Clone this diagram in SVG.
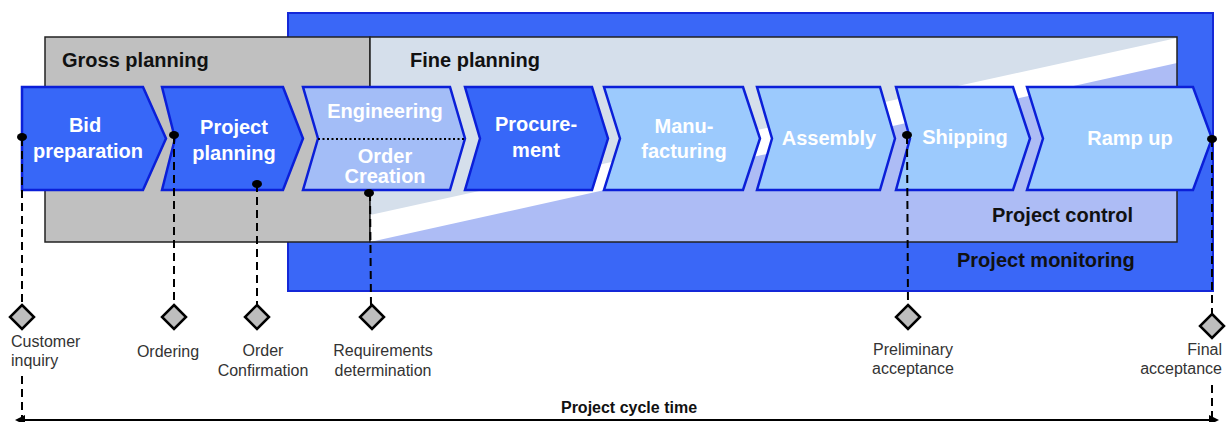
<svg xmlns="http://www.w3.org/2000/svg" width="1229" height="422" viewBox="0 0 1229 422">
<defs>
<style>
.box{font-family:"Liberation Sans",Arial,sans-serif;font-weight:bold;font-size:20px;fill:#111}
.chv{font-family:"Liberation Sans",Arial,sans-serif;font-weight:bold;font-size:20px;fill:#fff;text-anchor:middle}
.lbl{font-family:"Liberation Sans",Arial,sans-serif;font-size:16px;fill:#333;text-anchor:middle}
.dk{fill:#3767f8;stroke:#0b1fd8;stroke-width:2.5;stroke-linejoin:miter}
.lt{fill:#9ccafd;stroke:#0b1fd8;stroke-width:2.5}
.md{fill:#a3bdf7;stroke:#0b1fd8;stroke-width:2.5}
.dash{stroke:#000;stroke-width:2;stroke-dasharray:8,5;fill:none}
.dot{fill:#000}
.dia{fill:#bdbdbd;stroke:#000;stroke-width:2.5}
</style>
<clipPath id="fineClip"><rect x="370" y="37" width="807" height="205"/></clipPath>
<marker id="arrL" viewBox="0 0 10 10" refX="1" refY="5" markerWidth="5" markerHeight="5" orient="auto-start-reverse">
<path d="M0,0 L10,5 L0,10 Z" fill="#000"/>
</marker>
</defs>

<g id="project-monitoring">
<rect x="288" y="13" width="925" height="278" fill="#3a67f7" stroke="#1428d8" stroke-width="2"/>
<text class="box" x="957" y="267">Project monitoring</text>
</g>

<g id="gross-planning">
<rect x="45" y="37" width="325" height="205" fill="#c0c0c0" stroke="#222" stroke-width="1.5"/>
<text class="box" x="62" y="67">Gross planning</text>
</g>

<g id="fine-planning">
<g clip-path="url(#fineClip)">
<rect x="370" y="37" width="807" height="205" fill="#adbcf5"/>
<polygon points="370,37 1177,37 1177,63 370,242" fill="#ffffff"/>
<polygon points="370,37 1177,37 1177,38 370,215" fill="#d5dfeb"/>
</g>
<rect x="370" y="37" width="807" height="205" fill="none" stroke="#222" stroke-width="1.5"/>
<text class="box" x="410" y="67">Fine planning</text>
<text class="box" x="992" y="222">Project control</text>
</g>

<g id="bid-preparation">
<path class="dk" d="M22,87 L143,87 L166,138.5 L143,190 L22,190 Z"/>
<text class="chv" x="85" y="132">Bid</text>
<text class="chv" x="88" y="158">preparation</text>
</g>
<g id="project-planning">
<path class="dk" d="M162,87 L283,87 L303,138.5 L283,190 L162,190 L175,138.5 Z"/>
<text class="chv" x="234" y="134">Project</text>
<text class="chv" x="234" y="160">planning</text>
</g>
<g id="engineering">
<path class="md" d="M303,87 L450,87 L465,138.5 L450,190 L303,190 L318,138.5 Z"/>
<line x1="318" y1="139" x2="465" y2="139" stroke="#000" stroke-width="2" stroke-dasharray="2,2.5"/>
<text class="chv" x="385" y="118">Engineering</text>
<text class="chv" x="385" y="163">Order</text>
<text class="chv" x="385" y="183">Creation</text>
</g>
<g id="procurement">
<path class="dk" d="M465,87 L592,87 L608,138.5 L592,190 L465,190 L480,138.5 Z"/>
<text class="chv" x="536" y="131">Procure-</text>
<text class="chv" x="536" y="157">ment</text>
</g>
<g id="manufacturing">
<path class="lt" d="M604,87 L743,87 L760,138.5 L743,190 L604,190 L620,138.5 Z"/>
<text class="chv" x="684" y="133">Manu-</text>
<text class="chv" x="684" y="158">facturing</text>
</g>
<g id="assembly">
<path class="lt" d="M757,87 L880,87 L895,138.5 L880,190 L757,190 L772,138.5 Z"/>
<text class="chv" x="829" y="145">Assembly</text>
</g>
<g id="shipping">
<path class="lt" d="M896,87 L1013,87 L1030,138.5 L1013,190 L896,190 L910,138.5 Z"/>
<text class="chv" x="965" y="144">Shipping</text>
</g>
<g id="ramp-up">
<path class="lt" d="M1027,87 L1193,87 L1212,138.5 L1193,190 L1027,190 L1043,138.5 Z"/>
<text class="chv" x="1130" y="145">Ramp up</text>
</g>

<g id="connectors">
<line class="dash" x1="22" y1="138" x2="22" y2="305"/>
<line class="dash" x1="22" y1="376" x2="22" y2="418"/>
<line class="dash" x1="174" y1="136" x2="174" y2="305"/>
<line class="dash" x1="257" y1="184" x2="257" y2="305"/>
<line class="dash" x1="370" y1="193" x2="371" y2="305"/>
<line class="dash" x1="907" y1="136" x2="908" y2="305"/>
<line class="dash" x1="1212" y1="139" x2="1212" y2="314"/>
<line class="dash" x1="1212" y1="385" x2="1212" y2="418"/>
<line x1="24" y1="420" x2="1210" y2="420" stroke="#000" stroke-width="2" marker-start="url(#arrL)" marker-end="url(#arrL)"/>
<ellipse class="dot" cx="22" cy="137" rx="5" ry="4"/>
<ellipse class="dot" cx="174" cy="135" rx="5" ry="4"/>
<ellipse class="dot" cx="257" cy="184" rx="5" ry="4"/>
<ellipse class="dot" cx="369" cy="193" rx="5" ry="4"/>
<ellipse class="dot" cx="907" cy="135" rx="5" ry="4"/>
<ellipse class="dot" cx="1212" cy="139" rx="5" ry="4"/>
<text x="629" y="413" font-family="Liberation Sans, Arial, sans-serif" font-weight="bold" font-size="16" fill="#111" text-anchor="middle">Project cycle time</text>
</g>

<g id="ms-customer-inquiry">
<polygon class="dia" points="22,305 34,317 22,329 10,317"/>
<text class="lbl" x="11" y="347" text-anchor="start" style="text-anchor:start">Customer</text>
<text class="lbl" x="11" y="366" style="text-anchor:start">inquiry</text>
</g>
<g id="ms-ordering">
<polygon class="dia" points="174,305 186,317 174,329 162,317"/>
<text class="lbl" x="168" y="357">Ordering</text>
</g>
<g id="ms-order-confirmation">
<polygon class="dia" points="257,305 269,317 257,329 245,317"/>
<text class="lbl" x="263" y="356">Order</text>
<text class="lbl" x="263" y="376">Confirmation</text>
</g>
<g id="ms-requirements">
<polygon class="dia" points="372,305 384,317 372,329 360,317"/>
<text class="lbl" x="383" y="356">Requirements</text>
<text class="lbl" x="383" y="376">determination</text>
</g>
<g id="ms-preliminary">
<polygon class="dia" points="908,305 920,317 908,329 896,317"/>
<text class="lbl" x="913" y="355">Preliminary</text>
<text class="lbl" x="913" y="374">acceptance</text>
</g>
<g id="ms-final">
<polygon class="dia" points="1212,314 1224,326 1212,338 1200,326"/>
<text class="lbl" x="1222" y="355" style="text-anchor:end">Final</text>
<text class="lbl" x="1222" y="374" style="text-anchor:end">acceptance</text>
</g>
</svg>
